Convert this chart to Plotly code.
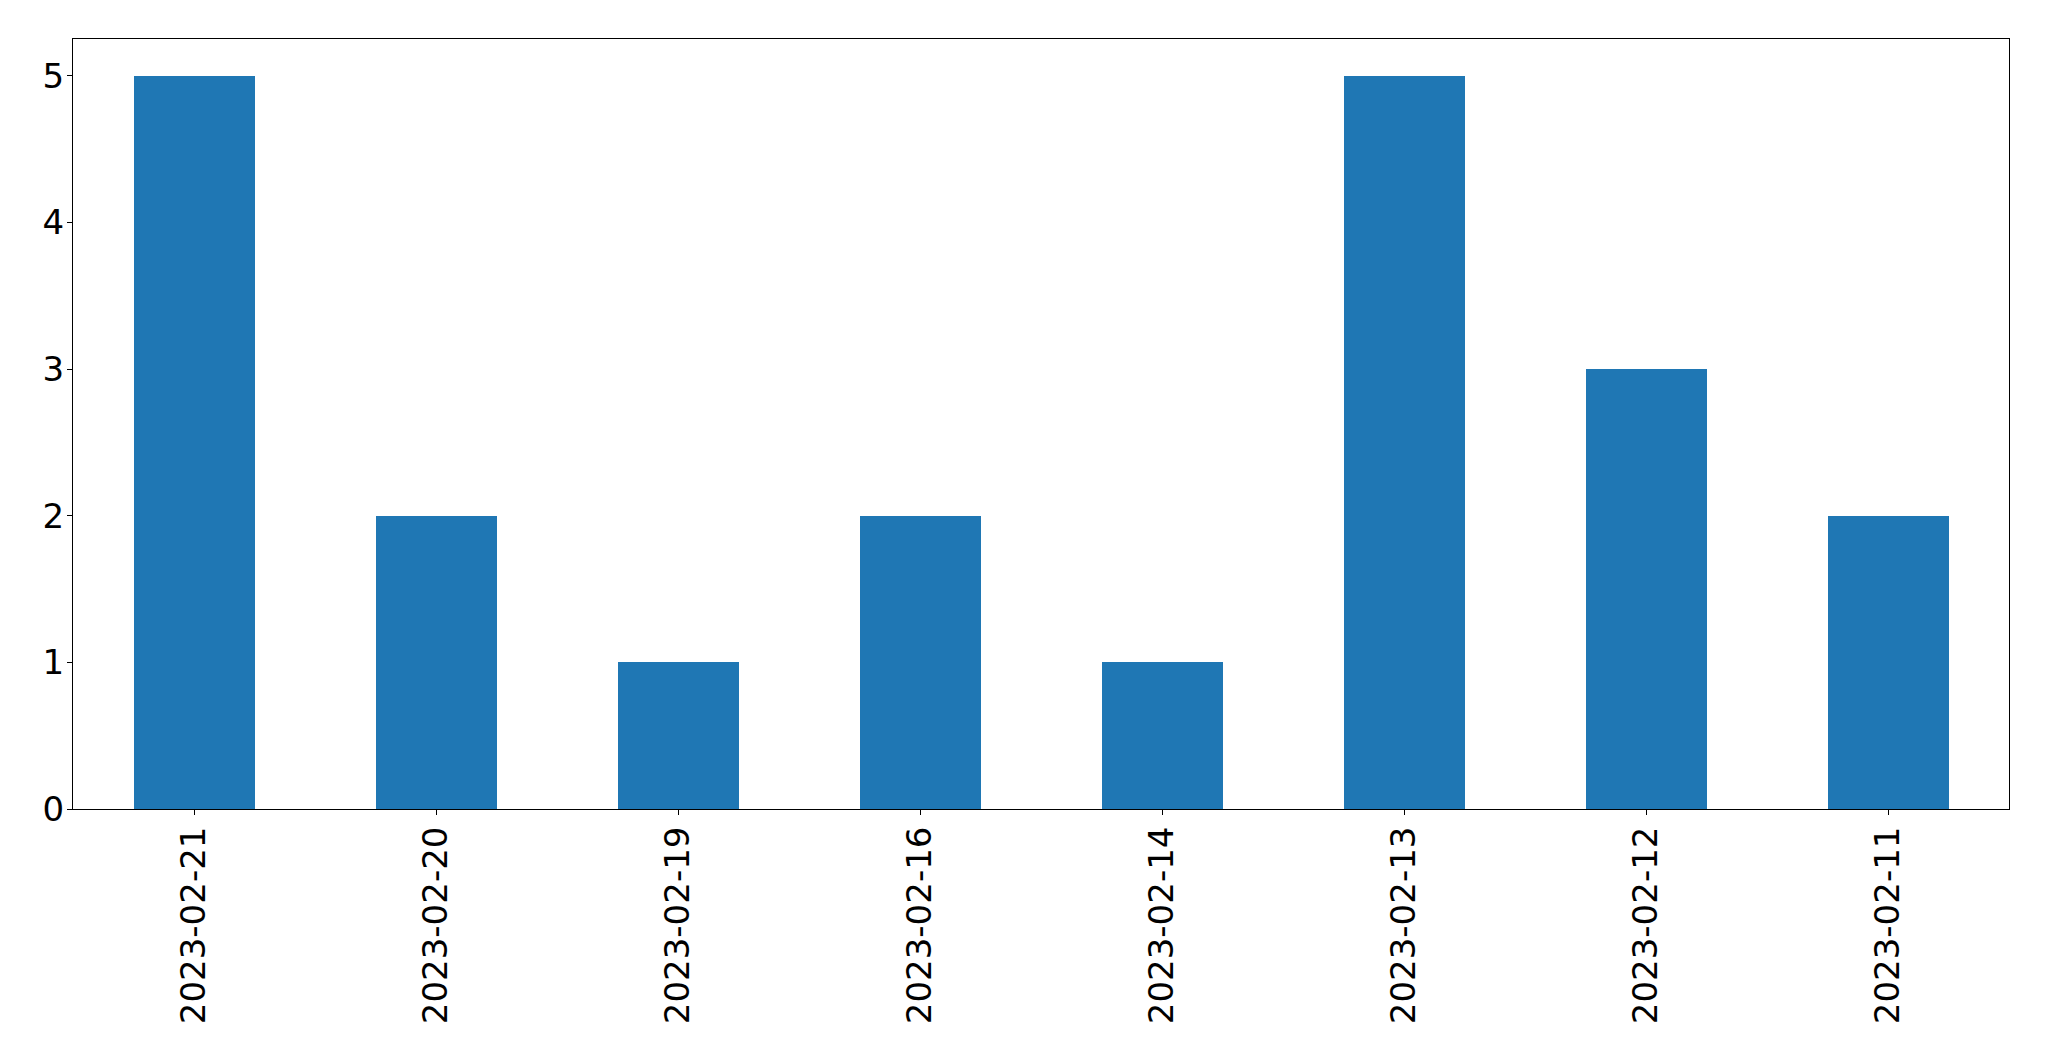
import plotly.graph_objects as go

dates = ["2023-02-21", "2023-02-20", "2023-02-19", "2023-02-16",
         "2023-02-14", "2023-02-13", "2023-02-12", "2023-02-11"]
counts = [5, 2, 1, 2, 1, 5, 3, 2]
y_ticks = [0, 1, 2, 3, 4, 5]

fig = go.Figure(go.Bar(x=list(range(len(dates))), y=counts, width=0.5,
                       marker=dict(color="#1f77b4", line=dict(width=0))))

fig.update_layout(
    width=2033, height=1045,
    margin=dict(l=65, r=32, t=31, b=244, pad=0),
    paper_bgcolor="white", plot_bgcolor="white",
    font=dict(family="DejaVu Sans", size=34, color="black"),
    showlegend=False,
    bargap=0,
)
fig.update_xaxes(
    range=[-0.5, len(dates) - 0.5], automargin=False,
    tickmode="array", tickvals=list(range(len(dates))), ticktext=dates,
    tickangle=-90, ticks="outside", ticklen=5, tickwidth=1, tickcolor="black",
    showline=True, linecolor="black", linewidth=1, mirror=True,
    showgrid=False, zeroline=False, ticklabelstandoff=-2,
)
fig.update_yaxes(
    range=[0, 5.25], automargin=False,
    tickmode="array", tickvals=y_ticks, ticktext=[str(v) for v in y_ticks],
    ticks="outside", ticklen=5, tickwidth=1, tickcolor="black",
    showline=True, linecolor="black", linewidth=1, mirror=True,
    showgrid=False, zeroline=False, ticklabelstandoff=-4,
)

fig.write_html("out.html")
